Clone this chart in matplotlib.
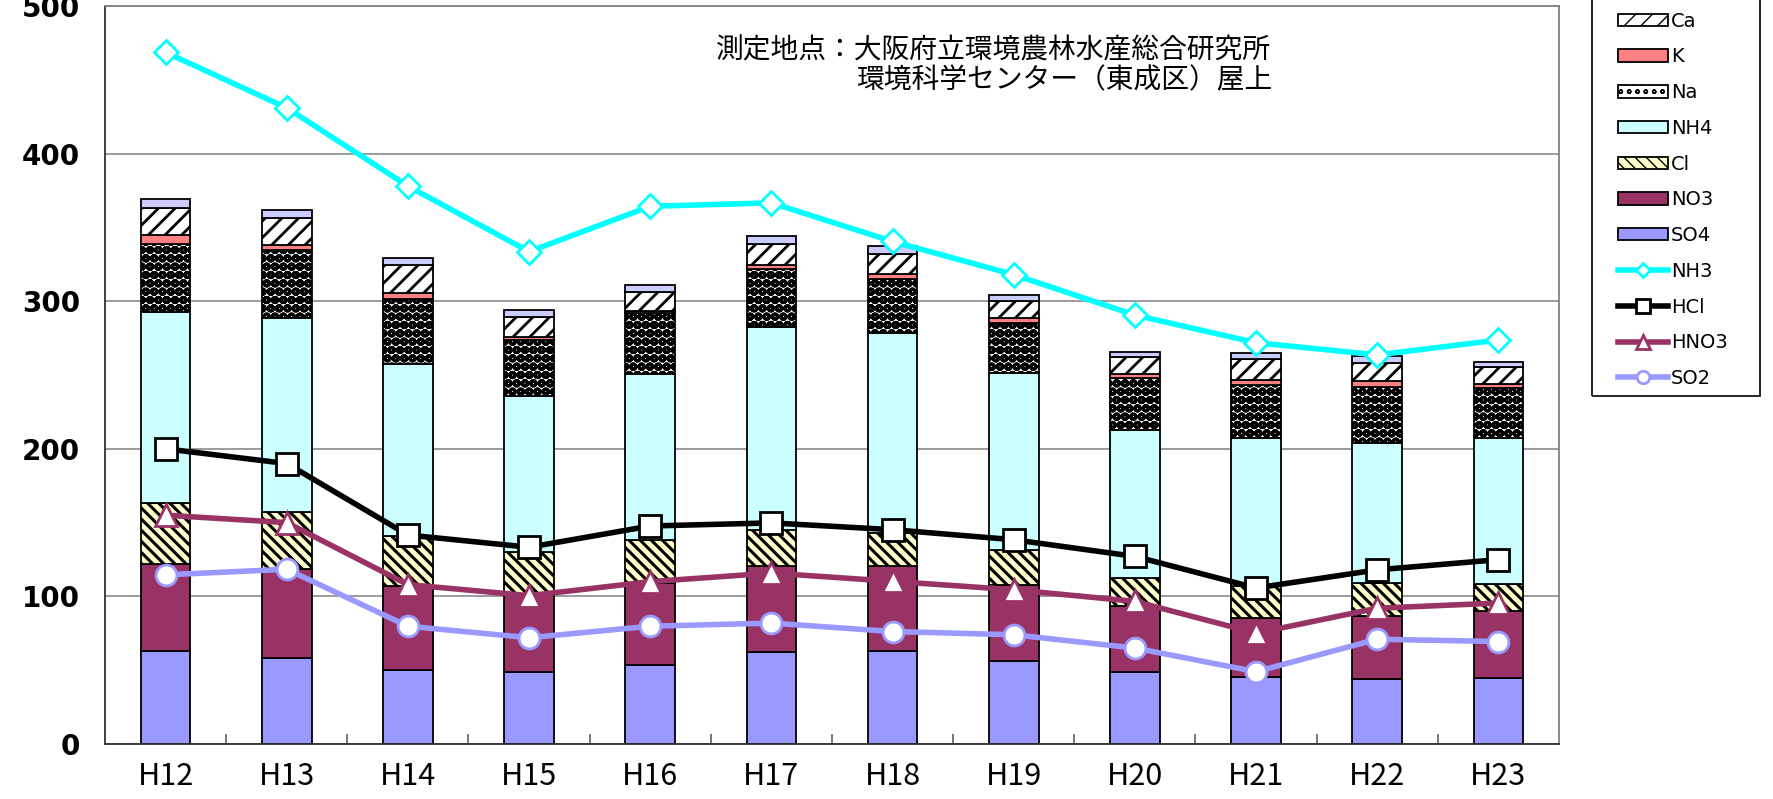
import numpy as np
import matplotlib
matplotlib.use('Agg')
import matplotlib.pyplot as plt
from matplotlib.patches import Rectangle, Patch

# fiscal years
years = ['H12', 'H13', 'H14', 'H15', 'H16', 'H17', 'H18', 'H19', 'H20', 'H21', 'H22', 'H23']

# particulate components (stacked bars, bottom to top)
so4 = [63, 58.4, 50, 49, 53.5, 62, 62.7, 56.5, 49, 45.2, 43.9, 44.6]
no3 = [59, 60, 57, 52, 55.5, 58.3, 58.1, 51.4, 44.2, 40.5, 43, 45.2]
cl = [41, 38.6, 34, 29.4, 29, 24.5, 22.2, 23.3, 19.2, 21.1, 22.1, 18.8]
nh4 = [130, 131.7, 116.5, 105.7, 112.6, 137.8, 135.6, 120.4, 100.6, 100.6, 94.6, 98.4]
na = [46, 46, 44, 37.6, 41.5, 39.4, 36.7, 33.3, 34.9, 36, 38.6, 33.9]
k = [6, 3.4, 4, 1.8, 1.4, 2.3, 3.3, 3.4, 2.9, 2.9, 3.4, 2.9]
ca = [18, 18, 19, 14, 12.4, 14.7, 13.6, 11.9, 11.6, 14.3, 12.4, 11.8]
mg = [6, 5.8, 4.5, 4.6, 4.9, 5.3, 5.2, 3.8, 3.4, 4.1, 4.9, 3.4]

# gaseous components (lines)
nh3 = [468.6, 431, 378, 333.6, 364.3, 366.6, 340.5, 318, 290.6, 271.9, 263.6, 273.7]
hcl = [200, 190, 141.6, 133.3, 147.7, 149.8, 145.2, 138.4, 127.1, 105.7, 118, 124.9]
hno3 = [155, 150, 108, 100.5, 110, 115.8, 110.2, 104.5, 96.6, 75.1, 92, 95.5]
so2 = [114.6, 118.4, 79.8, 72, 79.8, 81.9, 76.2, 74, 65, 49, 71, 69.4]

W, H = 1773, 799
fig = plt.figure(figsize=(W / 100, H / 100), dpi=100)
ax = fig.add_axes([105 / W, 1 - 744 / H, (1559 - 105) / W, (744 - 6) / H])

x = np.arange(len(years))
bottom = np.zeros(len(years))
layers = [
    (so4, 'SO4', '#9999FF', None, 1.0),
    (no3, 'NO3', '#993366', None, 1.0),
    (cl, 'Cl', '#FFFFCC', '\\\\\\', 2.2),
    (nh4, 'NH4', '#CCFFFF', None, 1.0),
    (na, 'Na', 'white', 'oo', 3.6),
    (k, 'K', '#FF8080', None, 1.0),
    (ca, 'Ca', 'white', '//', 2.0),
    (mg, 'Mg', '#CCCCFF', None, 1.0),
]
bar_handles = []
for vals, name, color, hatch, hlw in layers:
    plt.rcParams['hatch.linewidth'] = hlw
    bars = ax.bar(x, vals, width=0.41, bottom=bottom, color=color, edgecolor='black',
                  linewidth=1.3, hatch=hatch, zorder=2, label=name)
    for p in bars:
        if hasattr(p, 'set_hatch_linewidth'):
            p.set_hatch_linewidth(hlw)
    bottom += np.array(vals)
    h = Patch(facecolor=color, edgecolor='black', linewidth=1.3, hatch=hatch, label=name)
    if hasattr(h, 'set_hatch_linewidth'):
        h.set_hatch_linewidth(hlw)
    bar_handles.append(h)

lines = [
    (nh3, 'NH3', '#00FFFF', 'D', 12),
    (hcl, 'HCl', 'black', 's', 16),
    (hno3, 'HNO3', '#993366', '^', 16),
    (so2, 'SO2', '#9999FF', 'o', 15),
]
line_handles = []
for vals, name, color, mk, ms in lines:
    ln, = ax.plot(x, vals, color=color, lw=4, marker=mk, markersize=ms,
                  markerfacecolor='white', markeredgecolor=color, markeredgewidth=2,
                  zorder=4, label=name)
    line_handles.append(ln)

ax.set_xlim(-0.5, 11.5)
ax.set_ylim(0, 500)
ax.set_yticks(range(0, 501, 100))
ax.yaxis.grid(True, color='#808080', linewidth=1.1)
ax.set_axisbelow(True)
for s in ['top', 'right']:
    ax.spines[s].set_color('#808080')
    ax.spines[s].set_linewidth(1.3)
for s in ['left', 'bottom']:
    ax.spines[s].set_color('#303030')
    ax.spines[s].set_linewidth(1.3)

ax.set_xticks(x)
ax.set_xticklabels(years, family=['Noto Sans CJK JP'], fontsize=22)
ax.set_xticks(x[:-1] + 0.5, minor=True)
ax.tick_params(axis='x', which='major', length=0, pad=12)
ax.tick_params(axis='x', which='minor', direction='in', length=7, color='#606060', width=1.2)
ax.tick_params(axis='y', length=0, pad=18)
for lab in ax.get_yticklabels():
    lab.set_fontfamily('DejaVu Sans')
    lab.set_fontweight('bold')
    lab.set_fontsize(20)

fig.text(716 / W, 1 - 50 / H, '測定地点：大阪府立環境農林水産総合研究所',
         family=['Noto Sans CJK JP'], fontsize=20, va='center', ha='left')
fig.text(856 / W, 1 - 80 / H, '環境科学センター（東成区）屋上',
         family=['Noto Sans CJK JP'], fontsize=20, va='center', ha='left')

# legend box runs off the top edge; its first visible entry is Ca
handles = bar_handles[:-1][::-1] + line_handles
leg = fig.legend(handles=handles, loc='lower left',
                 bbox_to_anchor=(1618 / W, 1 - 388 / H), bbox_transform=fig.transFigure,
                 frameon=False, borderpad=0, borderaxespad=0,
                 handlelength=2.57, handleheight=0.6, handletextpad=0.15,
                 labelspacing=0.86, markerscale=0.6,
                 prop={'family': 'DejaVu Sans', 'size': 14})
fig.add_artist(Rectangle((1592 / W, 1 - 396 / H), (1760 - 1592) / W, 0.6,
                         transform=fig.transFigure, fill=False, edgecolor='black',
                         linewidth=1.2))

fig.savefig('out.png', dpi=100)
